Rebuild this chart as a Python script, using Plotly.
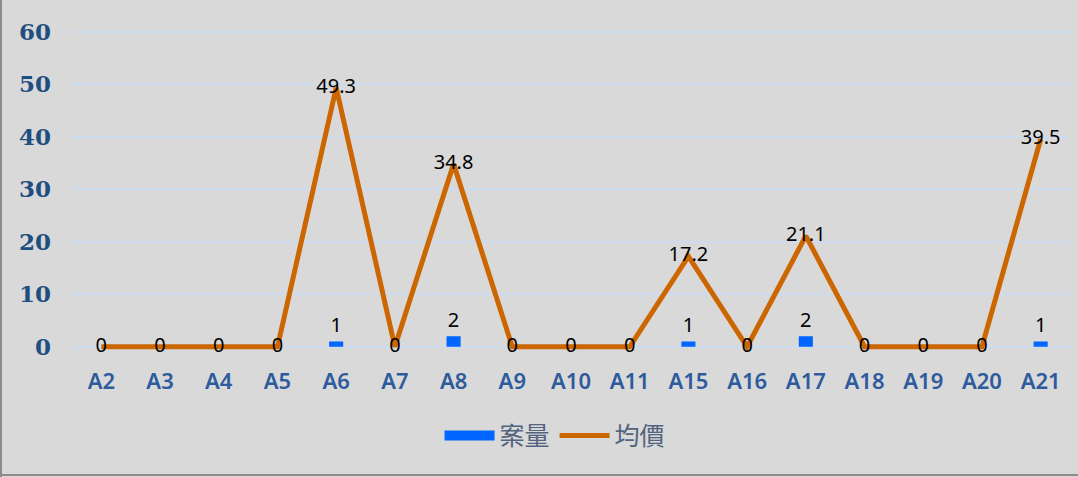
import plotly.graph_objects as go

categories = ["A2", "A3", "A4", "A5", "A6", "A7", "A8", "A9", "A10", "A11",
              "A15", "A16", "A17", "A18", "A19", "A20", "A21"]
case_counts = [0, 0, 0, 0, 1, 0, 2, 0, 0, 0, 1, 0, 2, 0, 0, 0, 1]
avg_prices = [0, 0, 0, 0, 49.3, 0, 34.8, 0, 0, 0, 17.2, 0, 21.1, 0, 0, 0, 39.5]
y_ticks = [0, 10, 20, 30, 40, 50, 60]

bar_text = [str(v) if v else "" for v in case_counts]
line_text = [f"{v:g}" for v in avg_prices]

fig = go.Figure()
fig.add_trace(go.Bar(
    x=categories, y=case_counts, name="案量", width=0.24, showlegend=False,
    legendgroup="case",
    marker=dict(color="#0066ff", line=dict(width=0)),
    text=bar_text, textposition="outside", cliponaxis=False, constraintext="none",
    textfont=dict(family="Noto Sans", size=20, color="#000000"),
))
# legend entry for the bars (wide rectangle swatch)
fig.add_trace(go.Scatter(
    x=[None], y=[None], name="案量", mode="lines", legendgroup="case",
    line=dict(color="#0066ff", width=15),
))
fig.add_trace(go.Scatter(
    x=categories, y=avg_prices, name="均價", mode="lines+text",
    line=dict(color="#cc6600", width=5),
    text=line_text, textposition="middle center", cliponaxis=False,
    textfont=dict(family="Noto Sans", size=20, color="#000000"),
))

fig.update_layout(
    width=1078, height=477,
    paper_bgcolor="#d9d9d9", plot_bgcolor="#d9d9d9",
    margin=dict(l=72, r=8, t=30, b=125, autoexpand=False),
    showlegend=True,
    legend=dict(orientation="h", x=0.484, xanchor="center", y=-0.26, yanchor="middle",
                font=dict(family="Noto Sans CJK TC", size=25, color="#53647e"),
                bgcolor="rgba(0,0,0,0)", traceorder="normal", itemwidth=50,
                entrywidthmode="pixels"),
    bargap=0.76,
    xaxis=dict(range=[-0.5, len(categories) - 0.5], showgrid=False, showline=False, ticks="",
               ticklabelstandoff=14, automargin=False,
               tickfont=dict(family="Noto Sans", size=22, color="#2e5b9c", weight=600)),
    yaxis=dict(range=[-1, 60.3], tickvals=y_ticks, showgrid=True, gridcolor="#cddbee",
               gridwidth=1.5, zeroline=False, showline=False, ticks="", ticklabelstandoff=20,
               automargin=False,
               tickfont=dict(family="DejaVu Serif", size=23, color="#1f4e80", weight="bold")),
)
fig.add_shape(type="line", xref="paper", yref="paper",
              x0=-71/998, x1=-71/998, y0=-125/322, y1=1 + 30/322,
              line=dict(color="#8c8c8c", width=2))
fig.add_shape(type="line", xref="paper", yref="paper",
              x0=-72/998, x1=1 + 8/998, y0=-123/322, y1=-123/322,
              line=dict(color="#8c8c8c", width=2))
fig.write_html("out.html", config={"displayModeBar": False},
               post_script="document.body.style.margin='0';")
